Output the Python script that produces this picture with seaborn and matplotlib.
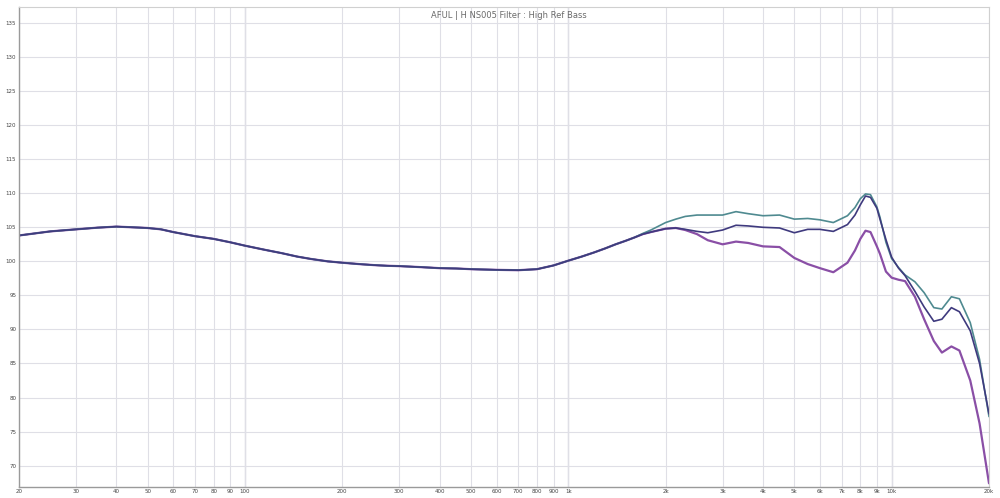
import numpy as np
import pandas as pd
import matplotlib
matplotlib.use("Agg")
import matplotlib.pyplot as plt
import seaborn as sns

# frequency points (Hz)
freq = [20, 25, 30, 35, 40, 45, 50, 55, 60, 70, 80, 90, 100, 115, 130, 145, 160, 180,
        200, 225, 250, 275, 300, 350, 400, 450, 500, 600, 700, 800, 900, 1000, 1100,
        1200, 1300, 1400, 1500, 1600, 1700, 1800, 2000, 2150, 2300, 2500, 2700, 3000,
        3300, 3600, 4000, 4500, 5000, 5500, 6000, 6600, 7300, 7700, 8000, 8300, 8600,
        9000, 9200, 9600, 10000, 10500, 11000, 11800, 12600, 13500, 14300, 15300,
        16200, 17500, 18700, 20000]

# shared part of the three curves (20 Hz - 1.6 kHz)
common = [103.8, 104.4, 104.7, 104.95, 105.1, 105.0, 104.9, 104.7, 104.3, 103.7, 103.3,
          102.8, 102.3, 101.7, 101.2, 100.7, 100.35, 100.0, 99.8, 99.6, 99.45, 99.35,
          99.3, 99.15, 99.0, 98.95, 98.85, 98.75, 98.7, 98.85, 99.4, 100.1, 100.7, 101.3,
          101.9, 102.5, 103.0, 103.5]

top_high = [104.1, 104.6, 105.7, 106.2, 106.6, 106.8, 106.8, 106.8, 107.3, 107.0, 106.7,
            106.8, 106.2, 106.3, 106.1, 105.7, 106.7, 107.9, 109.2, 109.9, 109.8, 108.0,
            106.5, 102.8, 100.4, 99.1, 98.0, 97.0, 95.4, 93.2, 93.0, 94.8, 94.5, 91.0,
            85.6, 77.2]
mid_high = [104.0, 104.3, 104.8, 104.9, 104.7, 104.4, 104.2, 104.6, 105.3, 105.2, 105.0,
            104.9, 104.2, 104.7, 104.7, 104.4, 105.4, 106.8, 108.3, 109.6, 109.4, 107.8,
            106.2, 103.2, 100.6, 99.0, 97.9, 95.6, 93.3, 91.2, 91.5, 93.2, 92.6, 89.8,
            85.0, 77.6]
low_high = [104.0, 104.3, 104.8, 104.9, 104.6, 104.0, 103.1, 102.5, 102.9, 102.7, 102.2,
            102.1, 100.5, 99.6, 99.0, 98.4, 99.8, 101.6, 103.3, 104.5, 104.3, 102.2,
            101.1, 98.5, 97.6, 97.3, 97.1, 94.8, 91.5, 88.3, 86.6, 87.5, 86.9, 82.5,
            76.2, 67.4]

series = {
    "High Ref Bass": common + low_high,
    "Ref": common + top_high,
    "Bass": common + mid_high,
}
colors = {"High Ref Bass": "#8a4fa6", "Ref": "#4f8a90", "Bass": "#3f3a7e"}
widths = {"High Ref Bass": 1.6, "Ref": 1.2, "Bass": 1.2}

xticks = [20, 30, 40, 50, 60, 70, 80, 90, 100, 200, 300, 400, 500, 600, 700, 800, 900,
          1000, 2000, 3000, 4000, 5000, 6000, 7000, 8000, 9000, 10000, 20000]
xlabels = ["20", "30", "40", "50", "60", "70", "80", "90", "100", "200", "300", "400",
           "500", "600", "700", "800", "900", "1k", "2k", "3k", "4k", "5k", "6k", "7k",
           "8k", "9k", "10k", "20k"]
yticks = [70, 75, 80, 85, 90, 95, 100, 105, 110, 115, 120, 125, 130, 135]

sns.set_theme(style="whitegrid")
plt.rcParams['font.family'] = ['DejaVu Sans']

fig = plt.figure(figsize=(10, 4.98), dpi=100)
ax = fig.add_axes([0.019, 0.0227, 0.97, 0.9638])

for name, vals in series.items():
    df = pd.DataFrame({"Hz": freq, "dB": vals})
    sns.lineplot(data=df, x="Hz", y="dB", ax=ax, color=colors[name],
                 linewidth=widths[name], legend=False)

ax.set_xscale("log")
ax.set_xlim(20, 20000)
ax.set_ylim(66.9, 137.4)
ax.set_xticks(xticks)
ax.set_xticklabels(xlabels)
ax.xaxis.set_minor_locator(matplotlib.ticker.NullLocator())
ax.set_yticks(yticks)
ax.set_yticklabels([str(v) for v in yticks])
ax.tick_params(axis="both", labelsize=4, colors="#444444", length=0, pad=2)
ax.set_xlabel("")
ax.set_ylabel("")

ax.grid(True, color="#dfdfe6", linewidth=0.8)
for major in [100, 1000, 10000]:
    ax.axvline(major, color="#c4c4cc", linewidth=0.9, zorder=0.5)

ax.set_facecolor("white")
for side in ["left", "bottom"]:
    ax.spines[side].set_color("#9a9a9a")
    ax.spines[side].set_linewidth(1.0)
for side in ["top", "right"]:
    ax.spines[side].set_color("#d0d0d0")
    ax.spines[side].set_linewidth(0.8)

ax.text(0.505, 0.992, "AFUL | H NS005 Filter : High Ref Bass", transform=ax.transAxes,
        ha="center", va="top", fontsize=6, color="#6a6a6a")

fig.savefig("out.png", dpi=100, facecolor="white")
